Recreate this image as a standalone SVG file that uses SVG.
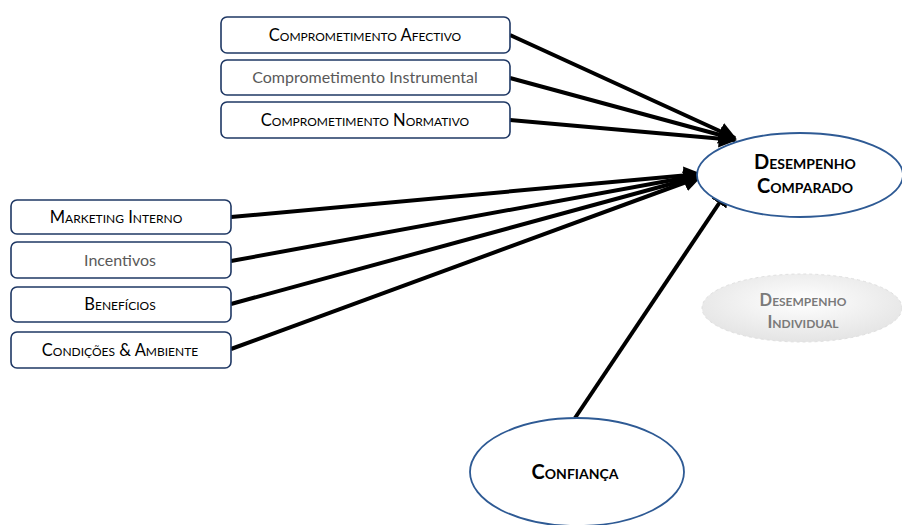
<svg xmlns="http://www.w3.org/2000/svg" width="902" height="525" viewBox="0 0 902 525">
<style>
.box{fill:#fff;stroke:#1f3864;stroke-width:1.6}
.t{font-family:Lato,"Open Sans","Liberation Sans",sans-serif;font-size:16.5px;fill:#000;text-anchor:middle;font-variant:small-caps}
.tg{fill:#595959;font-variant:normal;font-size:16px}
.et{font-family:Lato,"Open Sans","Liberation Sans",sans-serif;font-size:20px;font-weight:bold;fill:#000;text-anchor:middle;font-variant:small-caps}
.ell{fill:#fff;stroke:#2e5a94;stroke-width:1.8}
.c{stroke:#000;stroke-width:4;fill:none;marker-end:url(#ah)}
</style>
<defs>
<marker id="ah" viewBox="0 0 10 10" refX="9" refY="5" markerWidth="4.5" markerHeight="4.5" orient="auto" markerUnits="strokeWidth">
<path d="M0,0 L10,5 L0,10 z" fill="#000"/>
</marker>
<radialGradient id="gi" cx="0.5" cy="0.4" r="0.6">
<stop offset="0" stop-color="#ffffff"/>
<stop offset="1" stop-color="#e4e4e4"/>
</radialGradient>
</defs>
<g id="connectors">
<line class="c" x1="510" y1="35" x2="735" y2="138"/>
<line class="c" x1="510" y1="78" x2="735" y2="139"/>
<line class="c" x1="510" y1="120" x2="735" y2="140"/>
<line class="c" x1="231" y1="217" x2="700" y2="174"/>
<line class="c" x1="231" y1="261" x2="700" y2="175"/>
<line class="c" x1="231" y1="304" x2="700" y2="176"/>
<line class="c" x1="231" y1="349" x2="700" y2="177"/>
<line class="c" x1="575" y1="418" x2="728" y2="190"/>
</g>
<g id="n-afectivo"><rect class="box" x="221" y="17" width="289" height="36" rx="6"/><text class="t" x="365" y="41">Comprometimento Afectivo</text></g>
<g id="n-instrumental"><rect class="box" x="221" y="60" width="289" height="35" rx="6"/><text class="t tg" x="365" y="83">Comprometimento Instrumental</text></g>
<g id="n-normativo"><rect class="box" x="221" y="102" width="289" height="36" rx="6"/><text class="t" x="365" y="126">Comprometimento Normativo</text></g>
<g id="n-marketing"><rect class="box" x="11" y="200" width="220" height="34" rx="6"/><text class="t" x="116" y="223">Marketing Interno</text></g>
<g id="n-incentivos"><rect class="box" x="11" y="242" width="220" height="36" rx="6"/><text class="t tg" x="120" y="266">Incentivos</text></g>
<g id="n-beneficios"><rect class="box" x="11" y="287" width="220" height="35" rx="6"/><text class="t" x="120" y="310">Benefícios</text></g>
<g id="n-condicoes"><rect class="box" x="11" y="332" width="220" height="36" rx="6"/><text class="t" x="120" y="356">Condições &amp; Ambiente</text></g>
<g id="n-desempenho-comparado"><ellipse class="ell" cx="800" cy="175" rx="103" ry="42"/><text class="et" x="805" y="169">Desempenho</text><text class="et" x="805" y="193">Comparado</text></g>
<g id="n-desempenho-individual"><ellipse cx="802" cy="308" rx="100" ry="34" fill="url(#gi)" stroke="#e0e0e0" stroke-width="1" stroke-dasharray="3 3"/><text class="et" x="803" y="306" style="fill:#7a7a7a;font-size:16.5px">Desempenho</text><text class="et" x="803" y="328" style="fill:#7a7a7a;font-size:16.5px">Individual</text></g>
<g id="n-confianca"><ellipse class="ell" cx="577" cy="472" rx="107" ry="54"/><text class="et" x="575" y="479">Confiança</text></g>
</svg>
